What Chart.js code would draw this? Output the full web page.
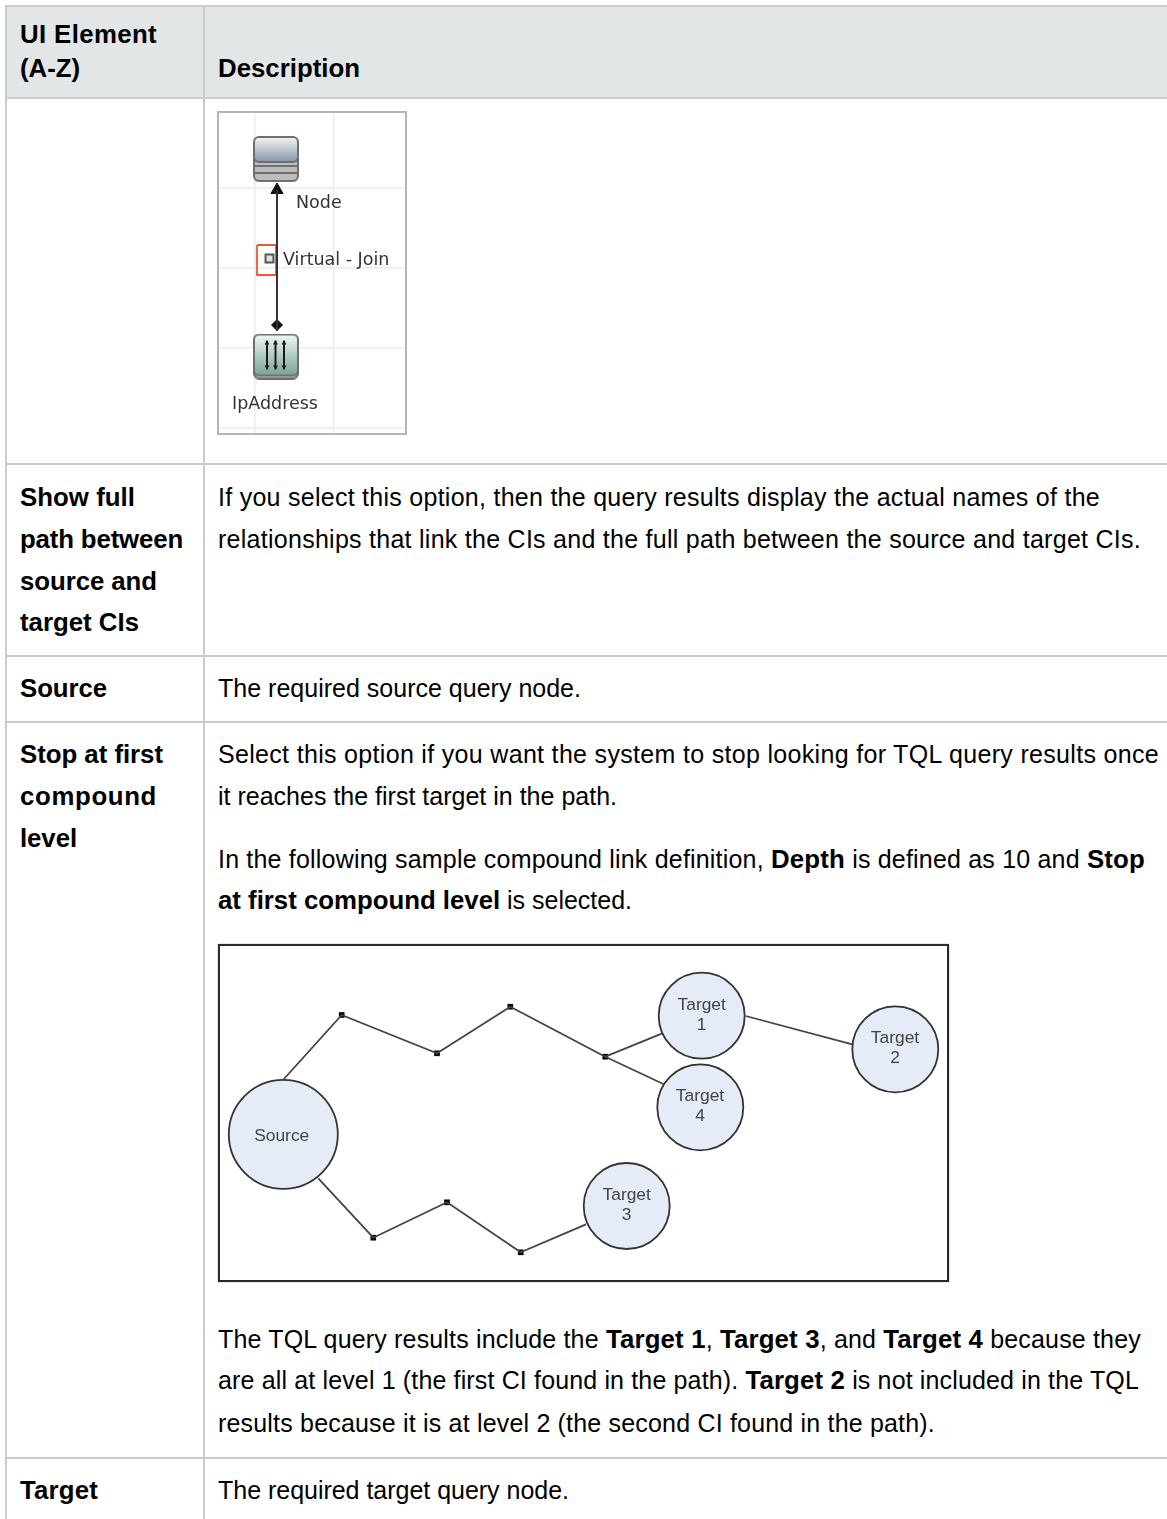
<!DOCTYPE html>
<html>
<head>
<meta charset="utf-8">
<title>UI Element table</title>
<script src="https://cdn.jsdelivr.net/npm/chart.js@4/dist/chart.umd.min.js"></script>
<style>
  html, body { margin: 0; background: #fff; }
  #page { position: relative; width: 1167px; height: 1519px; overflow: hidden; font-family: "Liberation Sans", Arial, sans-serif; color: #000; }
  #header-bg { position: absolute; left: 5px; top: 5px; width: 1162px; height: 94px; background: #e2e6e7; }
  .rule { position: absolute; background: #cbcbcb; }
  .line { position: absolute; white-space: nowrap; font-size: 25px; line-height: 30px; }
  .line.head { font-weight: bold; font-size: 25.8px; }
  .line b { font-size: 25.8px; }
  .frame { position: absolute; box-sizing: border-box; background: #fff; }
  #frame-query { left: 217px; top: 111px; width: 190px; height: 324px; border: 2px solid #b4b4b4; }
  #frame-sample { left: 218px; top: 944px; width: 731px; height: 338px; border: 2px solid #2a2a2a; box-shadow: 0 0 1px #777; }
  canvas { display: block; filter: blur(0.45px); }
</style>
</head>
<body>
<div id="page">
  <div id="header-bg"></div>
  <div class="frame" id="frame-query"><canvas id="chart-query" width="186" height="320"></canvas></div>
  <div class="frame" id="frame-sample"><canvas id="chart-sample" width="727" height="334"></canvas></div>
</div>
<script>
// table text: left, baseline, right edge, html
const headLines = [
  [20, 42, 157, "UI Element"],
  [20, 76, 80, "(A-Z)"],
  [218, 76, 360, "Description"],
  [20, 505, 135, "Show full"],
  [20, 547, 183, "path between"],
  [20, 589, 157, "source and"],
  [20, 630, 139, "target CIs"],
  [20, 696, 107, "Source"],
  [20, 762, 163, "Stop at first"],
  [20, 804, 157, "compound"],
  [20, 846, 77, "level"],
  [20, 1498, 98, "Target"],
];
const bodyLines = [
  [218, 505, 1100, "If you select this option, then the query results display the actual names of the"],
  [218, 547, 1141, "relationships that link the CIs and the full path between the source and target CIs."],
  [218, 696, 581, "The required source query node."],
  [218, 762, 1159, "Select this option if you want the system to stop looking for TQL query results once"],
  [218, 804, 617, "it reaches the first target in the path."],
  [218, 867, 1145, "In the following sample compound link definition, <b>Depth</b> is defined as 10 and <b>Stop</b>"],
  [218, 908, 632, "<b>at first compound level</b> is selected."],
  [218, 1347, 1141, "The TQL query results include the <b>Target 1</b>, <b>Target 3</b>, and <b>Target 4</b> because they"],
  [218, 1388, 1139, "are all at level 1 (the first CI found in the path). <b>Target 2</b> is not included in the TQL"],
  [218, 1431, 935, "results because it is at level 2 (the second CI found in the path)."],
  [218, 1498, 569, "The required target query node."],
];
const ruleRows = [5, 97, 463, 655, 721, 1457];
const ruleCols = [5, 203];

// query diagram, in page pixels
const gridX = [255, 334];
const gridY = [188, 268, 348, 428];
const linkX = [277, 277];
const linkY = [190, 331];
const markerBoxX = [257, 276, 276, 257, 257];
const markerBoxY = [245, 245, 275, 275, 245];
const queryIconX = [276, 276];
const queryIconY = [159, 356.5];
const queryLabels = ["Node", "Virtual - Join", "IpAddress"];
const queryLabelX = [296, 283, 232];
const queryLabelY = [203, 260, 404];

// sample compound link diagram, in page pixels
const upperPathX = [283, 341.7, 437, 510.3, 605.3];
const upperPathY = [1080, 1015, 1053.3, 1006.7, 1056.7];
const lowerPathX = [318.3, 373.3, 447, 520.7, 586];
const lowerPathY = [1178.3, 1237.7, 1202.3, 1252.3, 1224.3];
const branchOneX = [605.3, 661.7];
const branchOneY = [1056.7, 1033.7];
const branchFourX = [605.3, 663.3];
const branchFourY = [1056.7, 1084];
const branchTwoX = [745.7, 852.3];
const branchTwoY = [1016, 1044.3];
const waypointX = [341.7, 437, 510.3, 605.3, 373.3, 447, 520.7];
const waypointY = [1015, 1053.3, 1006.7, 1056.7, 1237.7, 1202.3, 1252.3];
const nodeNames = ["Source", "Target\n1", "Target\n2", "Target\n3", "Target\n4"];
const nodeX = [283.3, 701.7, 895.3, 626.7, 700.3];
const nodeY = [1134.3, 1015.7, 1049.3, 1206, 1107.3];
const nodeRadius = [54.5, 43, 43, 43, 43];
const nodeLabelX = [281.7, 701.7, 895, 626.7, 700];
const nodeLabelY = [1136, 1015, 1048.5, 1205, 1106.5];

const page = document.getElementById("page");

function addLines(lines, className) {
  lines.forEach(([left, baseline, right, html]) => {
    const div = document.createElement("div");
    div.className = className;
    div.style.left = `${left}px`;
    div.style.top = `${baseline - 23}px`;
    div.innerHTML = html;
    page.appendChild(div);
    // the source renders these lines a bit wider or narrower than the font's own advances
    const extra = right - left - div.getBoundingClientRect().width;
    div.style.letterSpacing = `${extra / div.textContent.length}px`;
  });
}

function addRule(left, top, width, height) {
  const div = document.createElement("div");
  div.className = "rule";
  div.style.cssText = `left:${left}px;top:${top}px;width:${width}px;height:${height}px`;
  page.appendChild(div);
}

ruleRows.forEach((y) => addRule(5, y, 1162, 2));
ruleCols.forEach((x) => addRule(x, 5, 2, 1514));
addLines(headLines, "line head");
addLines(bodyLines, "line");

function roundedPath(ctx, x, y, w, h, r) {
  ctx.beginPath();
  ctx.roundRect(x, y, w, h, r);
}

function nodeIcon() {
  const c = document.createElement("canvas");
  c.width = 46;
  c.height = 46;
  const ctx = c.getContext("2d");
  ctx.strokeStyle = "#6f6f6f";
  ctx.lineWidth = 2;
  ctx.fillStyle = "#bcbcbc";
  roundedPath(ctx, 1, 14, 44, 31, 5);
  ctx.fill();
  ctx.stroke();
  [30, 37].forEach((y) => {
    ctx.beginPath();
    ctx.moveTo(1, y);
    ctx.lineTo(45, y);
    ctx.stroke();
  });
  const grad = ctx.createLinearGradient(0, 1, 0, 25);
  grad.addColorStop(0, "#f2f4f5");
  grad.addColorStop(1, "#8b9cab");
  ctx.fillStyle = grad;
  roundedPath(ctx, 1, 1, 44, 25, 5);
  ctx.fill();
  ctx.stroke();
  return c;
}

function addressIcon() {
  const c = document.createElement("canvas");
  c.width = 46;
  c.height = 46;
  const ctx = c.getContext("2d");
  ctx.strokeStyle = "#6f6f6f";
  ctx.lineWidth = 2;
  ctx.fillStyle = "#bcbcbc";
  roundedPath(ctx, 1, 30, 44, 15, 5);
  ctx.fill();
  ctx.stroke();
  const grad = ctx.createLinearGradient(0, 1, 0, 41);
  grad.addColorStop(0, "#f0f6f3");
  grad.addColorStop(1, "#7ba696");
  ctx.fillStyle = grad;
  roundedPath(ctx, 1, 1, 44, 41, 5);
  ctx.fill();
  ctx.stroke();
  ctx.strokeStyle = "#1a1a1a";
  ctx.fillStyle = "#1a1a1a";
  [14, 22.5, 31].forEach((x) => {
    ctx.beginPath();
    ctx.moveTo(x, 7);
    ctx.lineTo(x, 36);
    ctx.stroke();
    [[7, 11], [36, 32]].forEach(([tip, base]) => {
      ctx.beginPath();
      ctx.moveTo(x, tip);
      ctx.lineTo(x - 2.5, base);
      ctx.lineTo(x + 2.5, base);
      ctx.fill();
    });
  });
  return c;
}

function zip(xs, ys) {
  return xs.map((x, i) => ({ x, y: ys[i] }));
}

function lineSet(xs, ys, color, width) {
  return {
    type: "line",
    data: zip(xs, ys),
    borderColor: color,
    borderWidth: width,
    pointRadius: 0,
    tension: 0,
    clip: false,
  };
}

function frameScales(xMin, xMax, yMin, yMax, xGrid, yGrid) {
  const axis = (min, max, reverse, grid) => ({
    type: "linear",
    min,
    max,
    reverse,
    display: !!grid,
    border: { display: false },
    ticks: { display: false },
    grid: { color: "#ebebeb", lineWidth: 1.5, drawTicks: false },
    afterBuildTicks: (scale) => {
      if (grid) scale.ticks = grid.map((value) => ({ value }));
    },
  });
  return { x: axis(xMin, xMax, false, xGrid), y: axis(yMin, yMax, true, yGrid) };
}

const baseOptions = {
  responsive: false,
  animation: false,
  layout: { padding: 0, autoPadding: false },
  plugins: { legend: { display: false }, tooltip: { enabled: false } },
};

const queryLabelPlugin = {
  id: "queryLabels",
  afterDatasetsDraw(chart) {
    const { ctx, scales } = chart;
    ctx.save();
    ctx.font = '17.5px "DejaVu Sans"';
    ctx.fillStyle = "#333";
    ctx.textBaseline = "middle";
    queryLabels.forEach((text, i) => {
      ctx.fillText(text, scales.x.getPixelForValue(queryLabelX[i]), scales.y.getPixelForValue(queryLabelY[i]));
    });
    ctx.restore();
  },
};

new Chart(document.getElementById("chart-query").getContext("2d"), {
  type: "scatter",
  data: {
    datasets: [
      lineSet(linkX, linkY, "#333", 2),
      lineSet(markerBoxX, markerBoxY, "#f0562e", 1.8),
      {
        data: [{ x: 269.5, y: 258.5 }],
        pointStyle: "rect",
        pointRadius: 5.6,
        backgroundColor: "#e0e0e0",
        borderColor: "#555",
        borderWidth: 2,
      },
      { data: [{ x: linkX[0], y: linkY[0] }], pointStyle: "triangle", pointRadius: 7, backgroundColor: "#111", borderColor: "#111", clip: false },
      { data: [{ x: linkX[1], y: 325 }], pointStyle: "rectRot", pointRadius: 5.5, backgroundColor: "#111", borderColor: "#111", clip: false },
      { data: zip(queryIconX, queryIconY), pointStyle: [nodeIcon(), addressIcon()], clip: false },
    ],
  },
  options: { ...baseOptions, scales: frameScales(219, 405, 113, 433, gridX, gridY) },
  plugins: [queryLabelPlugin],
});

const nodeLabelPlugin = {
  id: "nodeLabels",
  afterDatasetsDraw(chart) {
    const { ctx, scales } = chart;
    ctx.save();
    ctx.font = '17.4px "Liberation Sans"';
    ctx.fillStyle = "#444";
    ctx.textAlign = "center";
    ctx.textBaseline = "middle";
    nodeNames.forEach((name, i) => {
      const rows = name.split("\n");
      const px = scales.x.getPixelForValue(nodeLabelX[i]);
      const py = scales.y.getPixelForValue(nodeLabelY[i]);
      rows.forEach((row, r) => {
        ctx.fillText(row, px, py + (r - (rows.length - 1) / 2) * 20);
      });
    });
    ctx.restore();
  },
};

new Chart(document.getElementById("chart-sample").getContext("2d"), {
  type: "scatter",
  data: {
    datasets: [
      lineSet(upperPathX, upperPathY, "#444", 1.8),
      lineSet(lowerPathX, lowerPathY, "#444", 1.8),
      lineSet(branchOneX, branchOneY, "#444", 1.8),
      lineSet(branchFourX, branchFourY, "#444", 1.8),
      lineSet(branchTwoX, branchTwoY, "#444", 1.8),
      {
        data: zip(waypointX, waypointY),
        pointStyle: "rect",
        pointRadius: 4,
        backgroundColor: "#000",
        borderWidth: 0,
      },
      {
        data: zip(nodeX, nodeY),
        pointStyle: "circle",
        pointRadius: nodeRadius,
        backgroundColor: "#e5ecf7",
        borderColor: "#333",
        borderWidth: 1.8,
      },
    ],
  },
  options: { ...baseOptions, scales: frameScales(220, 947, 946, 1280) },
  plugins: [nodeLabelPlugin],
});
</script>
</body>
</html>
